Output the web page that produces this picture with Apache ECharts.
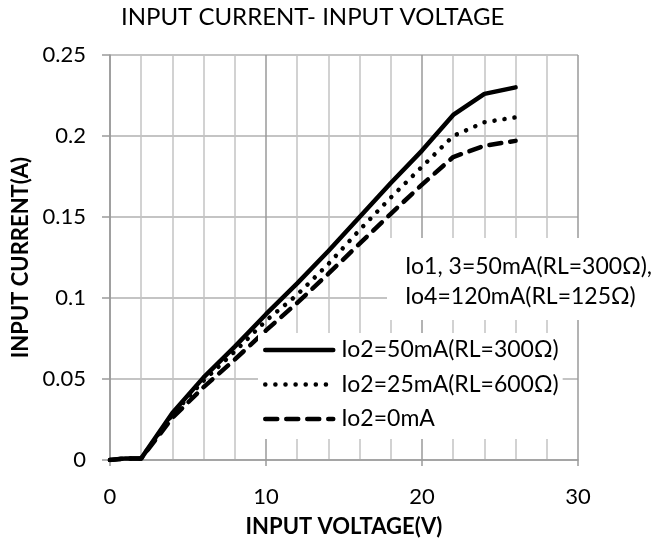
<!DOCTYPE html>
<html>
<head>
<meta charset="utf-8">
<script src="https://cdn.jsdelivr.net/npm/echarts@6/dist/echarts.min.js"></script>
<style>html,body{margin:0;padding:0;background:#fff;}#c{width:666px;height:545px;}</style>
</head>
<body>
<div id="c"></div>
<script>
var voltage = [0, 1, 2, 4, 6, 8, 10, 12, 14, 16, 18, 20, 22, 24, 26];
var io2_50mA = [0, 0.001, 0.001, 0.029, 0.051, 0.070, 0.090, 0.109, 0.129, 0.150, 0.171, 0.191, 0.213, 0.226, 0.230];
var io2_25mA = [0, 0.001, 0.001, 0.028, 0.049, 0.067, 0.086, 0.102, 0.121, 0.142, 0.162, 0.181, 0.200, 0.2085, 0.2115];
var io2_0mA  = [0, 0.001, 0.001, 0.026, 0.045, 0.062, 0.080, 0.097, 0.115, 0.1335, 0.152, 0.170, 0.187, 0.194, 0.197];
var seriesNames = ['Io2=50mA(RL=300Ω)', 'Io2=25mA(RL=600Ω)', 'Io2=0mA'];
var titleText = 'INPUT CURRENT- INPUT VOLTAGE';
var noteText = 'Io1, 3=50mA(RL=300Ω),\nIo4=120mA(RL=125Ω)';
var xName = 'INPUT VOLTAGE(V)';
var yName = 'INPUT CURRENT(A)';

function pairs(xs, ys) { return xs.map(function (x, i) { return [x, ys[i]]; }); }
var FONT = 'Lato, "Open Sans", sans-serif';

var chart = echarts.init(document.getElementById('c'), null, {renderer: 'canvas'});
chart.setOption({
  animation: false,
  backgroundColor: '#fff',
  title: [
    {text: titleText, left: 121, top: 5, padding: 0,
     textStyle: {fontFamily: FONT, fontSize: 24, fontWeight: 'normal', color: '#000'}},
    {text: noteText, left: 387, top: 238, padding: [14, 20, 8, 18], backgroundColor: '#fff',
     textStyle: {fontFamily: FONT, fontSize: 23, fontWeight: 'normal', color: '#000', lineHeight: 30}}
  ],
  grid: {left: 110, right: 88, top: 55, bottom: 85, containLabel: false},
  legend: {
    orient: 'vertical', left: 258, top: 333, padding: [5, 4, 8, 5],
    backgroundColor: '#fff', itemWidth: 68, itemHeight: 14, itemGap: 10.5,
    data: seriesNames,
    itemStyle: {opacity: 0},
    lineStyle: {width: 4.5, color: '#000'},
    textStyle: {fontFamily: FONT, fontSize: 23, color: '#000', lineHeight: 24, padding: [0, 0, 0, 3]}
  },
  xAxis: {
    type: 'value', min: 0, max: 30, interval: 10,
    name: xName, nameLocation: 'middle', nameGap: 56,
    nameTextStyle: {fontFamily: FONT, fontSize: 22, fontWeight: 'bold', color: '#000'},
    axisLine: {show: true, lineStyle: {color: '#9a9a9a', width: 1.5}},
    axisTick: {show: true, length: 6, lineStyle: {color: '#9a9a9a', width: 1.5}},
    axisLabel: {fontFamily: FONT, fontSize: 22, color: '#000', margin: 26},
    splitLine: {show: true, lineStyle: {color: '#9a9a9a', width: 1.5}},
    minorTick: {show: false, splitNumber: 5},
    minorSplitLine: {show: true, lineStyle: {color: '#c4c4c4', width: 1.5}}
  },
  yAxis: {
    type: 'value', min: 0, max: 0.25, interval: 0.05,
    name: yName, nameLocation: 'middle', nameGap: 74, nameRotate: 90,
    nameTextStyle: {fontFamily: FONT, fontSize: 22, fontWeight: 'bold', color: '#000'},
    axisLine: {show: true, lineStyle: {color: '#9a9a9a', width: 1.5}},
    axisTick: {show: true, length: 8, lineStyle: {color: '#9a9a9a', width: 1.5}},
    axisLabel: {fontFamily: FONT, fontSize: 22, color: '#000', margin: 24},
    splitLine: {show: true, lineStyle: {color: '#b0b0b0', width: 1.5}}
  },
  series: [
    {name: seriesNames[0], type: 'line', data: pairs(voltage, io2_50mA), symbol: 'none',
     itemStyle: {color: '#000'},
     lineStyle: {color: '#000', width: 4.5, type: 'solid', cap: 'round', join: 'round'}, z: 5},
    {name: seriesNames[1], type: 'line', data: pairs(voltage, io2_25mA), symbol: 'none',
     itemStyle: {color: '#000'},
     lineStyle: {color: '#000', width: 4.5, type: [0.1, 10], cap: 'round', join: 'round'}, z: 4},
    {name: seriesNames[2], type: 'line', data: pairs(voltage, io2_0mA), symbol: 'none',
     itemStyle: {color: '#000'},
     lineStyle: {color: '#000', width: 4.5, type: [12, 9], cap: 'round', join: 'round'}, z: 3}
  ]
});
</script>
</body>
</html>
